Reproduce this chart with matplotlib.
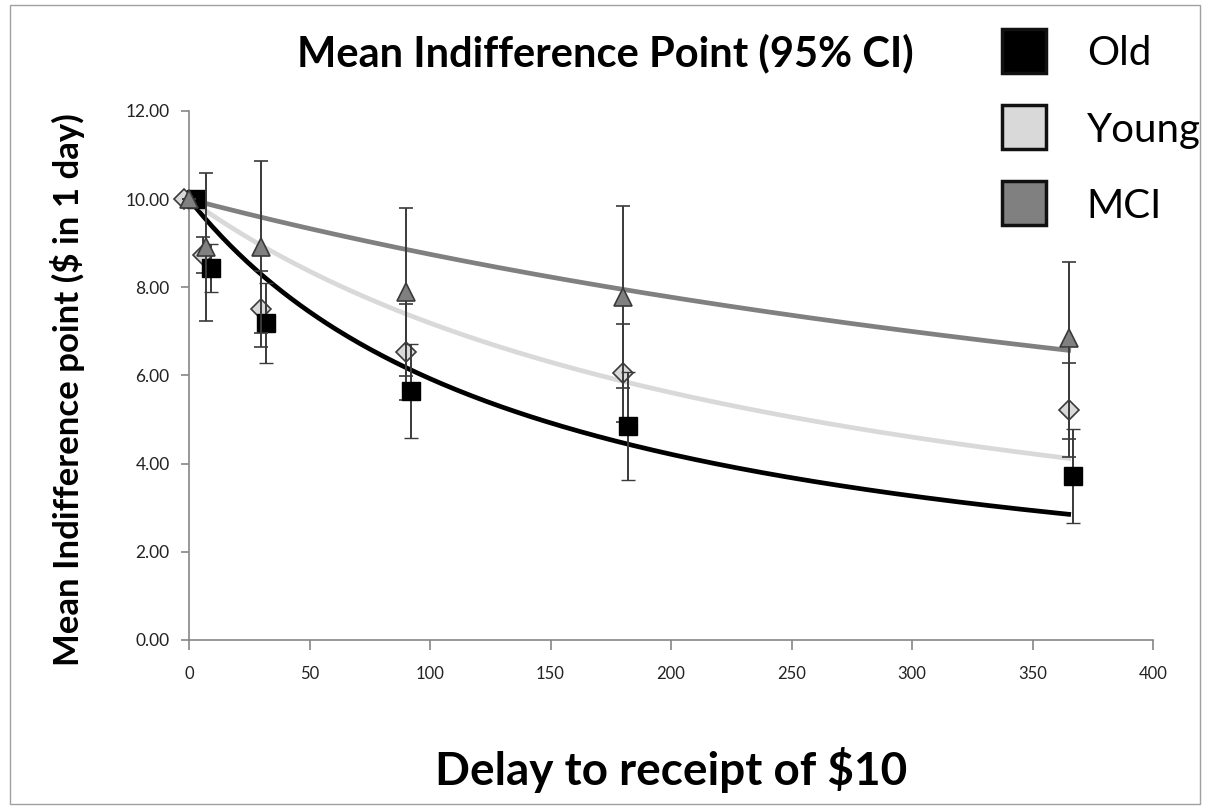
import matplotlib
matplotlib.use("Agg")
import matplotlib.pyplot as plt
import numpy as np
from matplotlib.lines import Line2D
from matplotlib.patches import Rectangle

# ── data ─────────────────────────────────────────────────────────────────────
old_x = [3, 9, 32, 92, 182, 367]
old_y = [10.00, 8.44, 7.19, 5.65, 4.85, 3.72]
old_err = [0.0, 0.54, 0.90, 1.07, 1.22, 1.07]

young_x = [-2, 6, 30, 90, 180, 365]
young_y = [10.00, 8.73, 7.51, 6.53, 6.06, 5.22]
young_err = [0.0, 0.41, 0.86, 1.09, 1.11, 1.06]

mci_x = [0, 7, 30, 90, 180, 365]
mci_y = [10.00, 8.92, 8.92, 7.89, 7.78, 6.85]
mci_err_lo = [0.0, 1.68, 1.95, 1.91, 2.07, 2.29]
mci_err_hi = [0.0, 1.68, 1.95, 1.91, 2.07, 1.72]

# hyperbolic discount rates of the fitted curves, V = 10 / (1 + kD)
fit_k = {"Old": 0.00687, "Young": 0.00391, "MCI": 0.00143}
fit_end = 365

groups = ["Old", "Young", "MCI"]
x_ticks = [0, 50, 100, 150, 200, 250, 300, 350, 400]
y_ticks = [0, 2, 4, 6, 8, 10, 12]

FONT = "Lato"
C_OLD, C_YOUNG, C_MCI = "#000000", "#d9d9d9", "#808080"
C_ERR = "#3a3a3a"
C_AXIS = "#868686"

fig = plt.figure(figsize=(12.10, 8.06), dpi=100)
ax = fig.add_axes([0.1562, 0.2060, 0.7967, 0.6563])

# fitted curves
d = np.linspace(0, fit_end, 300)
ax.plot(d, 10 / (1 + fit_k["Old"] * d), color=C_OLD, lw=3.4, zorder=2)
ax.plot(d, 10 / (1 + fit_k["Young"] * d), color=C_YOUNG, lw=3.4, zorder=2)
ax.plot(d, 10 / (1 + fit_k["MCI"] * d), color=C_MCI, lw=3.4, zorder=2)

# points with 95% CI
eb = dict(ecolor=C_ERR, elinewidth=1.4, capsize=5, capthick=1.4, ls="none", clip_on=False)
ax.errorbar(young_x, young_y, yerr=young_err, marker="D", ms=10, mfc=C_YOUNG,
            mec=C_ERR, mew=1.2, zorder=3, **eb)
ax.errorbar(old_x, old_y, yerr=old_err, marker="s", ms=13, mfc=C_OLD,
            mec=C_OLD, mew=1.0, zorder=4, **eb)
ax.errorbar(mci_x, mci_y, yerr=[mci_err_lo, mci_err_hi], marker="^", ms=13,
            mfc=C_MCI, mec=C_ERR, mew=1.2, zorder=5, **eb)

# axes styling
ax.set_xlim(0, 400)
ax.set_ylim(0, 12)
ax.set_xticks(x_ticks)
ax.set_yticks(y_ticks)
ax.set_xticklabels([str(v) for v in x_ticks], fontsize=12, family=FONT, color="#222222")
ax.set_yticklabels([f"{v:.2f}" for v in y_ticks], fontsize=12.5, family=FONT, color="#222222")
for side in ("top", "right"):
    ax.spines[side].set_visible(False)
for side in ("left", "bottom"):
    ax.spines[side].set_color(C_AXIS)
    ax.spines[side].set_linewidth(1.2)
ax.tick_params(axis="x", direction="out", length=7, width=1.2, color=C_AXIS, pad=12)
ax.tick_params(axis="y", direction="out", length=6, width=1.2, color=C_AXIS, pad=8)

ax.set_xlabel("Delay to receipt of $10", fontsize=33, fontweight="bold", family=FONT)
ax.xaxis.set_label_coords(0.50, -0.203)
ax.set_ylabel("Mean Indifference point ($ in 1 day)", fontsize=25, fontweight="bold",
              family=FONT)
ax.yaxis.set_label_coords(-0.108, 0.473)
fig.text(0.500, 0.934, "Mean Indifference Point (95% CI)", fontsize=30, fontweight="bold",
         family=FONT, ha="center", va="center")

# legend
colors = {"Old": C_OLD, "Young": C_YOUNG, "MCI": C_MCI}
handles = [Line2D([], [], ls="none", marker="s", ms=31, mfc=colors[g],
                  mec="#111111", mew=2.5) for g in groups]
fig.legend(handles, groups, loc="upper left", bbox_to_anchor=(0.795, 1.001),
           frameon=False, prop={"family": FONT, "size": 29},
           labelspacing=0.97, handletextpad=0.9, handlelength=1.3)

# chart area border
fig.patches.append(Rectangle((0.008, 0.002), 0.984, 0.992, transform=fig.transFigure,
                             fill=False, edgecolor="#a0a0a0", lw=1.0))

fig.savefig("out.png", dpi=100)
